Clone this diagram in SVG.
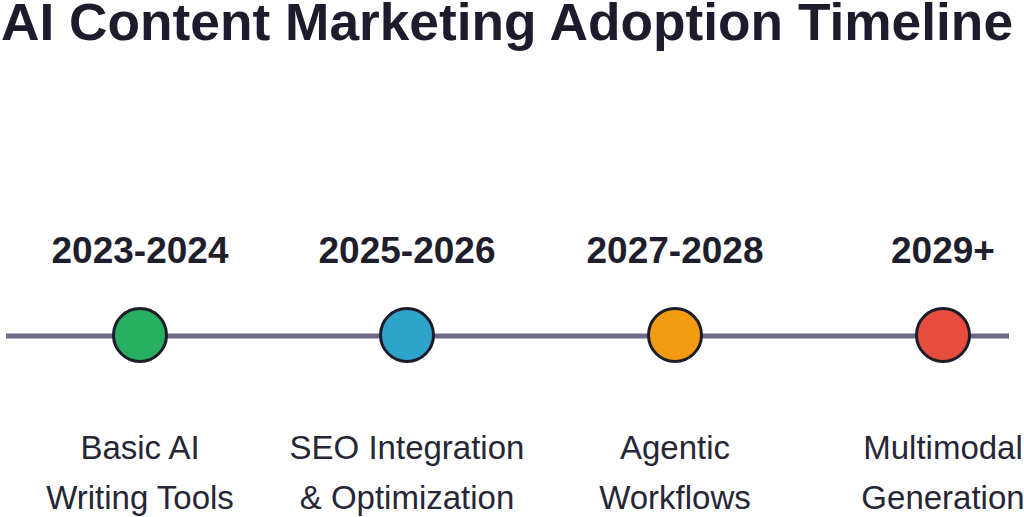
<svg xmlns="http://www.w3.org/2000/svg" width="1024" height="517" viewBox="0 0 1024 517">
<style>
.title{font-family:"Liberation Sans",Arial,sans-serif;font-weight:bold;font-size:51px;fill:#1c1c2c}
.year{font-family:"Liberation Sans",Arial,sans-serif;font-weight:bold;font-size:37px;fill:#1e1e2c;text-anchor:middle}
.label{font-family:"Liberation Sans",Arial,sans-serif;font-size:33px;fill:#262636;text-anchor:middle}
.dot{stroke:#1c1c2a;stroke-width:3}
</style>
<rect width="1024" height="517" fill="#ffffff"/>
<text class="title" x="1" y="40" textLength="1012" lengthAdjust="spacingAndGlyphs">AI Content Marketing Adoption Timeline</text>
<g id="connectors">
<line x1="6" y1="336" x2="1009" y2="336" stroke="#6b6a8c" stroke-width="5"/>
</g>
<g id="node-2023">
<text class="year" x="140" y="263">2023-2024</text>
<circle class="dot" cx="140" cy="335" r="26.5" fill="#27ae60"/>
<text class="label" x="140" y="459">Basic AI</text>
<text class="label" x="140" y="509">Writing Tools</text>
</g>
<g id="node-2025">
<text class="year" x="407" y="263">2025-2026</text>
<circle class="dot" cx="407" cy="335" r="26.5" fill="#2ea4cc"/>
<text class="label" x="407" y="459">SEO Integration</text>
<text class="label" x="407" y="509">&amp; Optimization</text>
</g>
<g id="node-2027">
<text class="year" x="675" y="263">2027-2028</text>
<circle class="dot" cx="675" cy="335" r="26.5" fill="#f39c12"/>
<text class="label" x="675" y="459">Agentic</text>
<text class="label" x="675" y="509">Workflows</text>
</g>
<g id="node-2029">
<text class="year" x="943" y="263">2029+</text>
<circle class="dot" cx="943" cy="335" r="26.5" fill="#e74c3c"/>
<text class="label" x="943" y="459">Multimodal</text>
<text class="label" x="943" y="509">Generation</text>
</g>
</svg>
